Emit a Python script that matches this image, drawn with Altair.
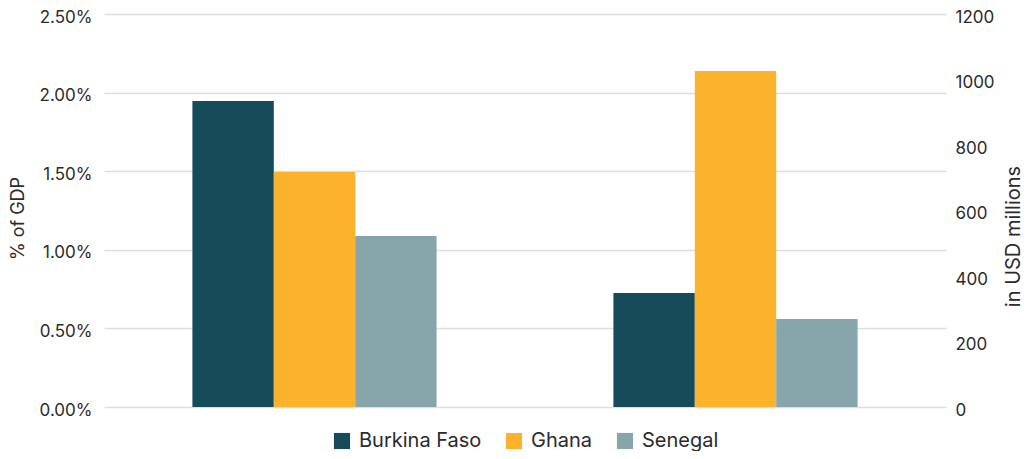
import altair as alt
import pandas as pd

groups = ["% of GDP", "in USD millions"]
countries = ["Burkina Faso", "Ghana", "Senegal"]
colors = ["#164c5a", "#fbb32e", "#86a6ac"]
pct_gdp = [0.01946, 0.01495, 0.01088]
usd_millions = [348, 1026, 269]

rows = []
for c, v in zip(countries, pct_gdp):
    rows.append({"group": groups[0], "country": c, "value": v})
for c, v in zip(countries, usd_millions):
    rows.append({"group": groups[1], "country": c, "value": v})
df = pd.DataFrame(rows)

FONT = "Inter"
TXT = "#2b2b2b"

x_enc = alt.X("group:N", scale=alt.Scale(domain=groups, paddingInner=0.42, paddingOuter=0.21), axis=None)
xo_enc = alt.XOffset("country:N", scale=alt.Scale(domain=countries, paddingInner=0, paddingOuter=0))
color_enc = alt.Color(
    "country:N",
    scale=alt.Scale(domain=countries, range=colors),
    legend=alt.Legend(
        title=None, orient="none", legendX=228, legendY=417, direction="horizontal",
        symbolType="square", symbolSize=260, symbolStrokeWidth=0, labelFontSize=20,
        labelFont=FONT, labelColor=TXT, columnPadding=22, labelOffset=7,
    ),
)

base = alt.Chart(df)

left = base.transform_filter(alt.datum.group == groups[0]).mark_bar().encode(
    x=x_enc, xOffset=xo_enc, color=color_enc,
    y=alt.Y(
        "value:Q",
        scale=alt.Scale(domain=[0, 0.025], nice=False),
        axis=alt.Axis(
            orient="left", title="% of GDP", format=".2%",
            values=[0, 0.005, 0.01, 0.015, 0.02, 0.025],
            grid=True, gridColor="#dedede", gridWidth=1.5, domain=False, ticks=False,
            labelPadding=12, labelFontSize=17, labelFont=FONT, labelColor=TXT, labelOffset=3,
            titleFontSize=18, titleFont=FONT, titleFontWeight="normal", titleColor=TXT,
            titleAngle=270, titleX=-86, titleY=204, titleAlign="center", titleBaseline="middle",
        ),
    ),
)

right = base.transform_filter(alt.datum.group == groups[1]).mark_bar().encode(
    x=x_enc, xOffset=xo_enc, color=color_enc,
    y=alt.Y(
        "value:Q",
        scale=alt.Scale(domain=[0, 1200], nice=False),
        axis=alt.Axis(
            orient="right", title="in USD millions", format="d",
            values=[0, 200, 400, 600, 800, 1000, 1200],
            grid=False, domain=False, ticks=False,
            labelPadding=9, labelFontSize=17, labelFont=FONT, labelColor=TXT, labelOffset=3,
            titleFontSize=20, titleFont=FONT, titleFontWeight="normal", titleColor=TXT,
            titleAngle=270, titleX=67, titleY=222, titleAlign="center", titleBaseline="middle",
        ),
    ),
)

chart = alt.layer(left, right).resolve_scale(y="independent").properties(
    width=842, height=393,
    autosize=alt.AutoSizeParams(type="none"),
    padding={"left": 96, "top": 6, "right": 78, "bottom": 44},
).configure_view(stroke=None)

chart.save("out.html", embed_options={"renderer": "svg", "actions": False})
